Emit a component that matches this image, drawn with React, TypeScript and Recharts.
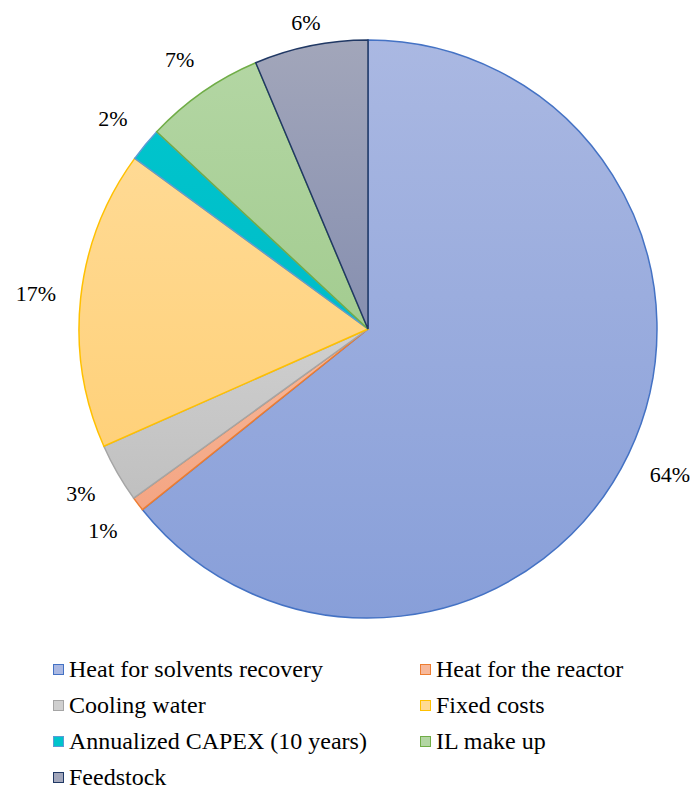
import { PieChart, Pie, Cell } from "recharts";

const categories = [
  "Heat for solvents recovery",
  "Heat for the reactor",
  "Cooling water",
  "Fixed costs",
  "Annualized CAPEX (10 years)",
  "IL make up",
  "Feedstock",
];
const shares = [64.25, 0.8, 3.3, 16.7, 1.9, 6.7, 6.35];
const labels = ["64%", "1%", "3%", "17%", "2%", "7%", "6%"];

// distance of each label from the rim
const labelGap = [46, 44, 42, 45, 42, 40, 24];

const fillTop = ["#aab8e2", "#f7b89a", "#cfcfcf", "#ffda94", "#00c4cc", "#b3d6a3", "#a2a6ba"];
const fillBottom = ["#889fd9", "#f4a583", "#c0c0c0", "#ffd17a", "#00bcc8", "#a3cc90", "#868fb0"];
const strokes = ["#4472c4", "#ed7d31", "#a5a5a5", "#ffc000", "#5b9bd5", "#70ad47", "#203864"];

const data = categories.map((name, i) => ({ name, value: shares[i], label: labels[i] }));

const RAD = Math.PI / 180;
const serif = "'Times New Roman', 'Liberation Serif', 'DejaVu Serif', serif";

function renderLabel(p: any) {
  const r = p.outerRadius + labelGap[p.index];
  const x = p.cx + r * Math.cos(-p.midAngle * RAD);
  const y = p.cy + r * Math.sin(-p.midAngle * RAD);
  return (
    <text
      x={x}
      y={y}
      textAnchor="middle"
      dominantBaseline="central"
      fill="#000"
      fontSize={22}
      style={{ fontFamily: serif }}
    >
      {data[p.index].label}
    </text>
  );
}

function LegendBox() {
  return (
    <div
      style={{
        position: "absolute",
        top: 659,
        left: 53,
        display: "grid",
        gridTemplateColumns: "367px 260px",
        rowGap: 16,
        fontFamily: serif,
        fontSize: 24,
        lineHeight: "20px",
        color: "#000",
      }}
    >
      {data.map((d, i) => (
        <div key={d.name} style={{ display: "flex", alignItems: "center", height: 20, whiteSpace: "nowrap" }}>
          <span
            style={{
              display: "inline-block",
              width: 9,
              height: 9,
              background: fillTop[i],
              border: `1.5px solid ${strokes[i]}`,
              marginRight: 5,
            }}
          />
          {d.name}
        </div>
      ))}
    </div>
  );
}

export default function App() {
  return (
    <div
      style={{
        position: "fixed",
        top: 0,
        left: 0,
        width: 693,
        height: 787,
        overflow: "hidden",
        background: "#fff",
        fontFamily: serif,
      }}
    >
      <PieChart width={693} height={787} margin={{ top: 0, right: 0, bottom: 0, left: 0 }}>
        <defs>
          {fillTop.map((c, i) => (
            <linearGradient key={i} id={`g${i}`} x1="0" y1="0" x2="0" y2="1">
              <stop offset="0%" stopColor={c} />
              <stop offset="100%" stopColor={fillBottom[i]} />
            </linearGradient>
          ))}
        </defs>
        <Pie
          data={data}
          dataKey="value"
          nameKey="name"
          cx={368}
          cy={329}
          outerRadius={289}
          startAngle={90}
          endAngle={-270}
          label={renderLabel}
          labelLine={false}
          isAnimationActive={false}
        >
          {data.map((d, i) => (
            <Cell key={d.name} fill={`url(#g${i})`} stroke={strokes[i]} strokeWidth={1.5} />
          ))}
        </Pie>
      </PieChart>
      <LegendBox />
    </div>
  );
}
